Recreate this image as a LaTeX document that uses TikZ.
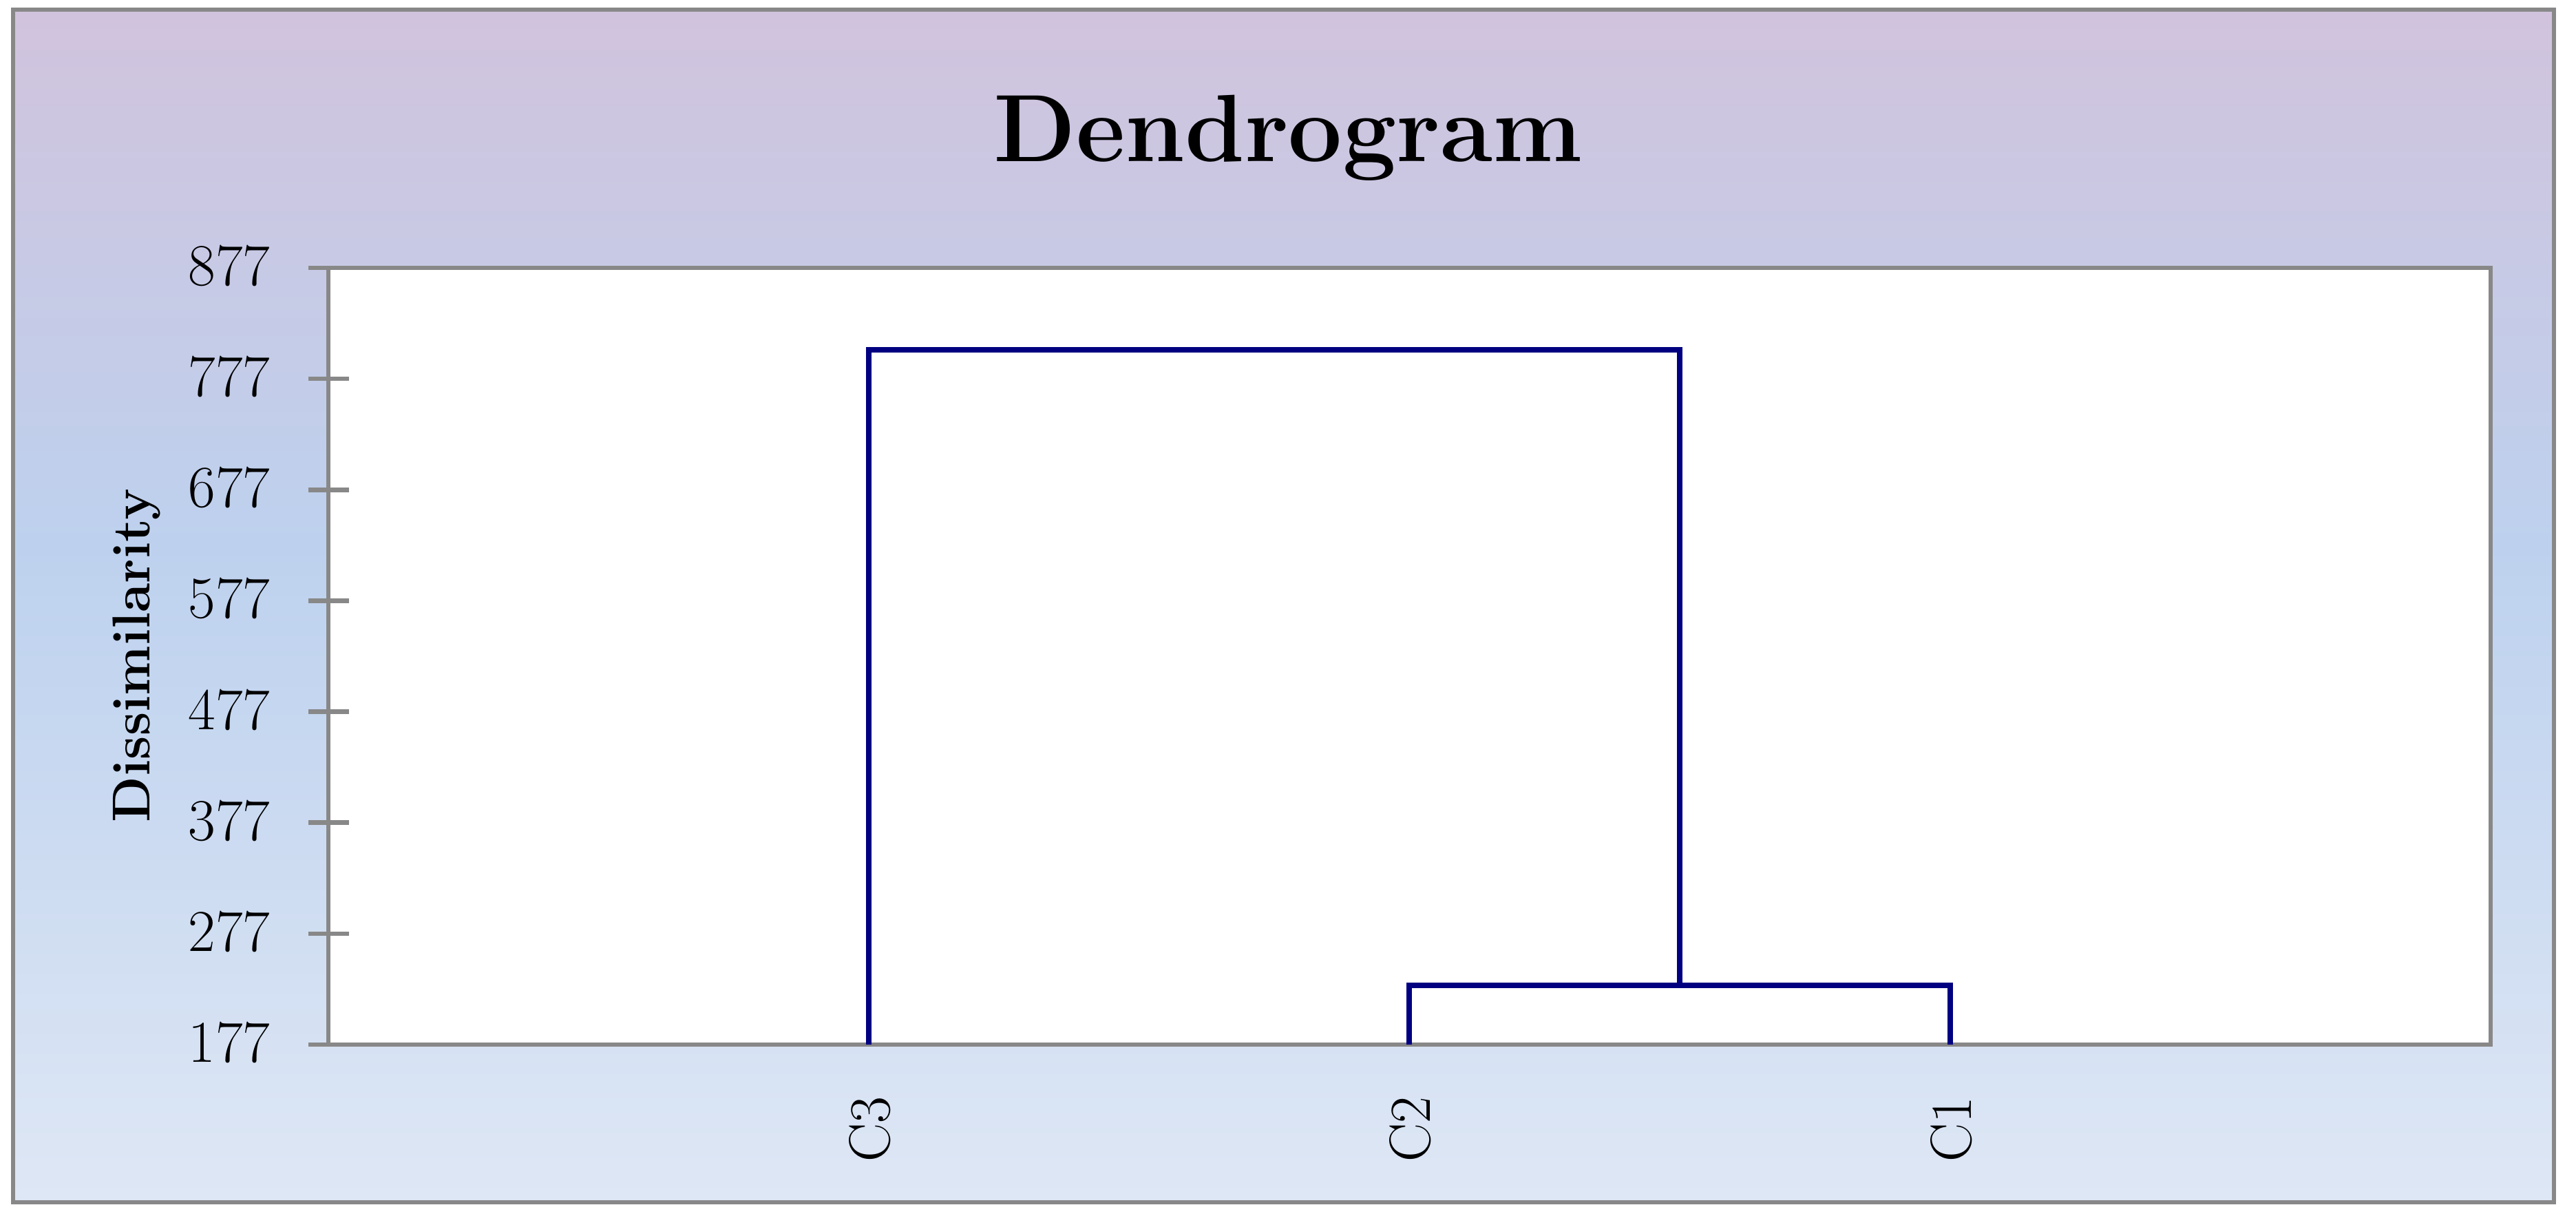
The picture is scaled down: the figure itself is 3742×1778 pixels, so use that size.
\documentclass[tikz,border=0pt]{standalone}
\usepackage{fontspec}
\usetikzlibrary{positioning}
\definecolor{framegray}{HTML}{888888}
\definecolor{linknavy}{HTML}{000080}
\definecolor{bgtop}{HTML}{D1C3DD}
\definecolor{bgmid}{HTML}{BDD1EE}
\definecolor{bgbot}{HTML}{DEE7F5}
\pgfdeclareverticalshading{chartbg}{100bp}{color(0bp)=(bgbot); color(25bp)=(bgbot); color(52.5bp)=(bgmid); color(75bp)=(bgtop); color(100bp)=(bgtop)}

\begin{document}
\begin{tikzpicture}[x=0.01cm,y=0.01cm]
        \tikzset{chartframe/.style={draw=framegray, line width=0.06cm},
        plotarea/.style={fill=white, draw=framegray, line width=0.065cm},
        tickmark/.style={draw=framegray, line width=0.065cm},
        link/.style={draw=linknavy, line width=0.088cm},
        ticklab/.style={anchor=east, inner sep=0pt, font=\fontsize{24.5}{29}\selectfont},
        leaflab/.style={rotate=90, inner sep=0pt, font=\fontsize{24}{28}\selectfont},
        charttitle/.style={anchor=base, inner sep=0pt, font=\fontsize{39.5}{46}\selectfont\bfseries},
        axlab/.style={rotate=90, anchor=base, inner sep=0pt, font=\fontsize{22}{26}\selectfont\bfseries}
        }
        \useasboundingbox (0,0) rectangle (3742,1778);
%% background and plot area
        \path[chartframe, shade, shading=chartbg] (19,32) rectangle (3710,1764);
        \path[plotarea] (477,261) rectangle (3618,1389);
        \node[charttitle] (title) at (1871,1543) {Dendrogram};
        \node[axlab] (ylab) at (217,826) {Dissimilarity};
%% y axis
        \foreach \v [count=\i from 0] in {177,277,...,877} {
            \draw[tickmark] (448,261+\i*161.14) -- (507,261+\i*161.14);
            \node[ticklab] (t\v) at (393,264+\i*161.14) {\v};
        }
%% leaves and joins
        \coordinate (l3) at (1262,261);
        \coordinate (l2) at (2047,261);
        \coordinate (l1) at (2833,261);
        \coordinate (j21) at (2440,347);
        \coordinate (j321) at (1851,1270);
        \node[leaflab] (c3) at (1264,138) {C3};
        \node[leaflab] (c2) at (2049,138) {C2};
        \node[leaflab] (c1) at (2835,138) {C1};
%% paths
        \path[link] (l2) |- (j21) -| (l1)
                    (j21) |- (j321) -| (l3)
                    ;
    \end{tikzpicture}
\end{document}
